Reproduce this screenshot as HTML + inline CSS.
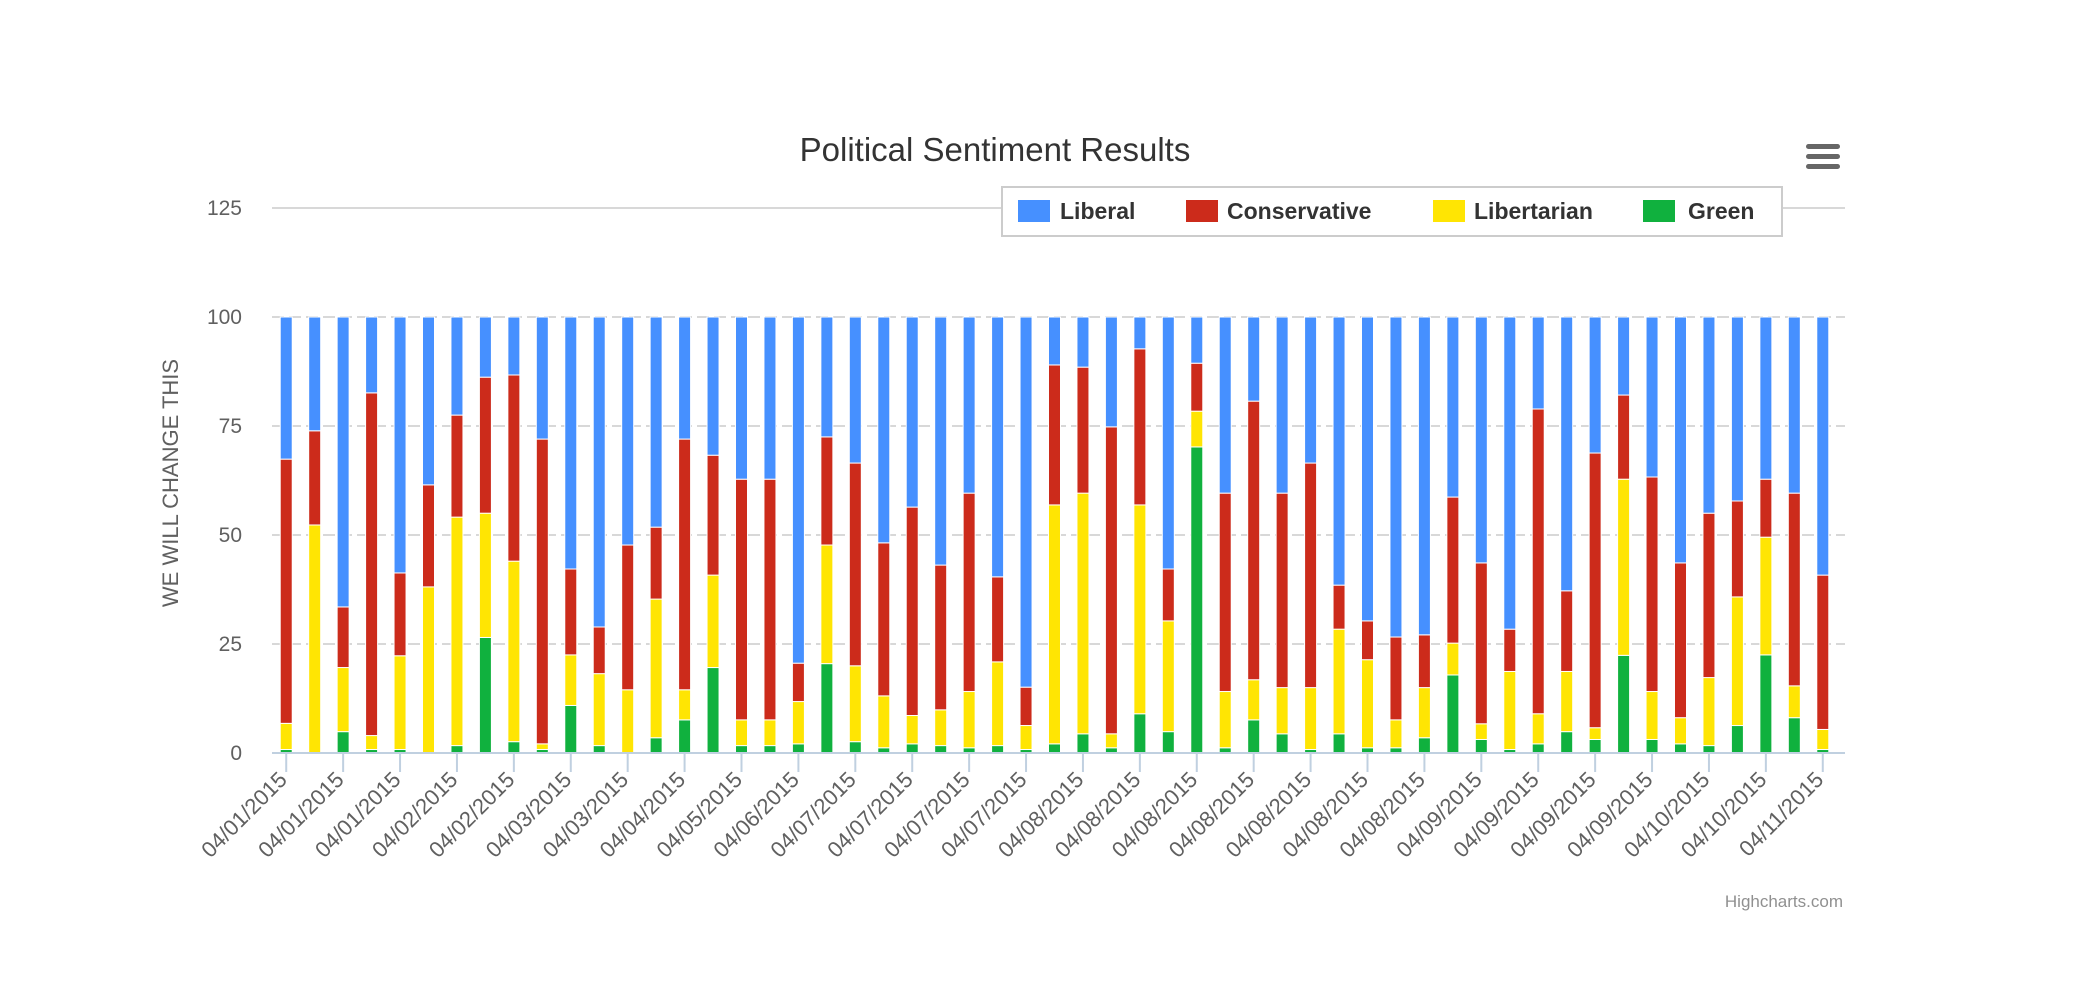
<!DOCTYPE html>
<html><head><meta charset="utf-8"><style>
html,body{margin:0;padding:0;background:#fff;}
svg{display:block;font-family:"Liberation Sans","DejaVu Sans",sans-serif;}
</style></head><body>
<svg id="chart" width="2082" height="990" viewBox="0 0 2082 990" xmlns="http://www.w3.org/2000/svg">
<rect x="0" y="0" width="2082" height="990" fill="#fff"/>
<text x="995" y="161" text-anchor="middle" font-size="33" fill="#333333">Political Sentiment Results</text>
<g>
<rect x="1806" y="144" width="34" height="5" rx="2.5" fill="#666"/>
<rect x="1806" y="154" width="34" height="5" rx="2.5" fill="#666"/>
<rect x="1806" y="164" width="34" height="5" rx="2.5" fill="#666"/>
</g>
<g id="grid"></g>
<g id="ylabels"></g>
<text transform="translate(178,483) rotate(-90)" text-anchor="middle" font-size="22" fill="#606060">WE WILL CHANGE THIS</text>
<g id="bars"></g>
<g id="xaxis"></g>
<g>
<rect x="1002" y="187" width="780" height="49" fill="#fff" stroke="#cccccc" stroke-width="2"/>
<g><rect x="1018" y="200" width="32" height="22" fill="#4690FF"/><text x="1060" y="219" font-size="23" font-weight="bold" fill="#333">Liberal</text></g>
<g><rect x="1186" y="200" width="32" height="22" fill="#CC2B1B"/><text x="1227" y="219" font-size="23" font-weight="bold" fill="#333">Conservative</text></g>
<g><rect x="1433" y="200" width="32" height="22" fill="#FFE503"/><text x="1474" y="219" font-size="23" font-weight="bold" fill="#333">Libertarian</text></g>
<g><rect x="1643" y="200" width="32" height="22" fill="#10B13E"/><text x="1688" y="219" font-size="23" font-weight="bold" fill="#333">Green</text></g>
</g>
<text x="1843" y="907" text-anchor="end" font-size="17" fill="#909090">Highcharts.com</text>
</svg>
<script>
const categories = ["04/01/2015","04/01/2015","04/01/2015","04/01/2015","04/01/2015","04/01/2015","04/02/2015","04/02/2015","04/02/2015","04/02/2015","04/03/2015","04/03/2015","04/03/2015","04/03/2015","04/04/2015","04/04/2015","04/05/2015","04/05/2015","04/06/2015","04/06/2015","04/07/2015","04/07/2015","04/07/2015","04/07/2015","04/07/2015","04/07/2015","04/07/2015","04/07/2015","04/08/2015","04/08/2015","04/08/2015","04/08/2015","04/08/2015","04/08/2015","04/08/2015","04/08/2015","04/08/2015","04/08/2015","04/08/2015","04/08/2015","04/08/2015","04/08/2015","04/08/2015","04/08/2015","04/09/2015","04/09/2015","04/09/2015","04/09/2015","04/09/2015","04/09/2015","04/09/2015","04/09/2015","04/10/2015","04/10/2015","04/11/2015"];
const green = [0.8,0,4.9,0.8,0.8,0,1.7,26.5,2.6,0.8,10.9,1.7,0,3.5,7.6,19.6,1.7,1.7,2.1,20.5,2.6,1.2,2.1,1.7,1.2,1.7,0.8,2.1,4.4,1.2,9.0,4.9,70.2,1.2,7.6,4.4,0.8,4.4,1.2,1.2,3.5,17.9,3.1,0.8,2.1,4.9,3.1,22.4,3.1,2.1,1.7,6.3,22.5,8.1,0.8];
const libertarian = [6.0,52.3,14.7,3.2,21.5,38.1,52.4,28.5,41.4,1.3,11.6,16.5,14.5,31.8,6.9,21.2,5.9,5.9,9.7,27.2,17.4,11.9,6.5,8.2,12.9,19.2,5.5,54.8,55.2,3.2,47.9,25.4,8.2,12.9,9.2,10.6,14.2,24.0,20.2,6.4,11.5,7.3,3.6,17.9,6.9,13.8,2.7,40.4,11.0,6.0,15.6,29.5,27.0,7.3,4.6];
const conservative = [60.6,21.6,13.9,78.6,19.0,23.4,23.4,31.2,42.7,69.9,19.7,10.7,33.2,16.5,57.5,27.5,55.2,55.2,8.8,24.8,46.5,35.1,47.8,33.2,45.5,19.5,8.8,32.1,28.9,70.4,35.8,11.9,11.0,45.5,63.9,44.6,51.5,10.1,8.9,19.0,12.1,33.5,36.9,9.7,69.9,18.5,63.0,19.3,49.2,35.5,37.7,22.0,13.3,44.2,35.4];
const liberal = [32.6,26.1,66.5,17.4,58.7,38.5,22.5,13.8,13.3,28.0,57.8,71.1,52.3,48.2,28.0,31.7,37.2,37.2,79.4,27.5,33.5,51.8,43.6,56.9,40.4,59.6,84.9,11.0,11.5,25.2,7.3,57.8,10.6,40.4,19.3,40.4,33.5,61.5,69.7,73.4,72.9,41.3,56.4,71.6,21.1,62.8,31.2,17.9,36.7,56.4,45.0,42.2,37.2,40.4,59.2];
const yTicks = [0,25,50,75,100,125];
const xLabels = ["04/01/2015","04/01/2015","04/01/2015","04/02/2015","04/02/2015","04/03/2015","04/03/2015","04/04/2015","04/05/2015","04/06/2015","04/07/2015","04/07/2015","04/07/2015","04/07/2015","04/08/2015","04/08/2015","04/08/2015","04/08/2015","04/08/2015","04/08/2015","04/08/2015","04/09/2015","04/09/2015","04/09/2015","04/09/2015","04/10/2015","04/10/2015","04/11/2015"];

const NS="http://www.w3.org/2000/svg";
const left=272, right=1837, y0=753, y100=317;
const n=categories.length, cw=(right-left)/n, bw=12;
function yScale(v){return y0-(v/100)*(y0-y100);}
function xCenter(i){return left+cw*(i+0.5);}
function mk(tag,attrs,parent){const e=document.createElementNS(NS,tag);for(const k in attrs)e.setAttribute(k,attrs[k]);parent.appendChild(e);return e;}
const grid=document.getElementById('grid'), yl=document.getElementById('ylabels'), bars=document.getElementById('bars'), xa=document.getElementById('xaxis');
yTicks.forEach(t=>{
  if(t>0){const l=mk('line',{x1:left,x2:right+8,y1:yScale(t),y2:yScale(t),stroke:'#D8D8D8','stroke-width':2},grid);
    if(t<125)l.setAttribute('stroke-dasharray','12,5');
    
    }
  const tx=mk('text',{x:242,y:yScale(t)+7,'text-anchor':'end','font-size':21,fill:'#606060'},yl);
  tx.textContent=t;
  
  
});
const series=[{d:green,c:'#10B13E',n:'green'},{d:libertarian,c:'#FFE503',n:'libertarian'},{d:conservative,c:'#CC2B1B',n:'conservative'},{d:liberal,c:'#4690FF',n:'liberal'}];
for(let i=0;i<n;i++){
  let base=0;
  series.forEach(s=>{
    const v=s.d[i]; if(v<=0)return;
    const yt=yScale(base+v), yb=yScale(base);
    const r=mk('rect',{x:xCenter(i)-bw/2,y:yt,width:bw,height:yb-yt,fill:s.c,stroke:'#fff','stroke-width':1},bars);
    
    
    base+=v;
  });
}
const ax=mk('line',{x1:left,x2:right+8,y1:y0,y2:y0,stroke:'#C0D0E0','stroke-width':2},xa);


xLabels.forEach((lab,k)=>{
  const i=k*2, x=xCenter(i);
  const tk=mk('line',{x1:x,x2:x,y1:y0,y2:y0+19,stroke:'#C0D0E0','stroke-width':2},xa);
  
  
  const t=mk('text',{transform:'translate('+(x+2)+','+(y0+28)+') rotate(-45)','text-anchor':'end','font-size':22,fill:'#606060'},xa);
  t.textContent=lab;
  
  
});
</script>
</body></html>
